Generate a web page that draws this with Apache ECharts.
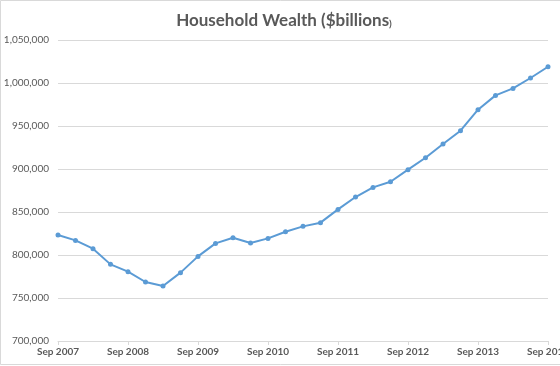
<!DOCTYPE html>
<html>
<head>
<meta charset="utf-8">
<script src="https://cdn.jsdelivr.net/npm/echarts@6/dist/echarts.min.js"></script>
<style>
html,body{margin:0;padding:0;background:#fff;}
#chart{width:560px;height:366px;}
</style>
</head>
<body>
<div id="chart"></div>
<script>
var categories = [
  'Sep 2007','Dec 2007','Mar 2008','Jun 2008',
  'Sep 2008','Dec 2008','Mar 2009','Jun 2009',
  'Sep 2009','Dec 2009','Mar 2010','Jun 2010',
  'Sep 2010','Dec 2010','Mar 2011','Jun 2011',
  'Sep 2011','Dec 2011','Mar 2012','Jun 2012',
  'Sep 2012','Dec 2012','Mar 2013','Jun 2013',
  'Sep 2013','Dec 2013','Mar 2014','Jun 2014',
  'Sep 2014'
];
var wealth = [
  823300, 817000, 807300, 789100,
  780600, 768600, 764000, 779500,
  798400, 813500, 820100, 814000,
  819300, 827100, 833300, 837600,
  853000, 867400, 878600, 885200,
  899200, 913100, 929000, 944500,
  969000, 985600, 993700, 1005800,
  1018900
];
var titleMain = 'Household Wealth ($billions';
var titleTail = ')';

var chart = echarts.init(document.getElementById('chart'), null, {renderer: 'canvas'});
var grey = '#595959';
var font = 'Lato';
chart.setOption({
  animation: false,
  backgroundColor: '#ffffff',
  title: {
    text: '{a|' + titleMain + '}{b|' + titleTail + '}',
    left: 279,
    textAlign: 'center',
    top: 7,
    textStyle: {
      rich: {
        a: {fontFamily: font, fontSize: 17, fontWeight: 'bold', color: grey},
        b: {fontFamily: font, fontSize: 10, fontWeight: 'bold', color: grey, verticalAlign: 'bottom', padding: [6, 0, 0, 0]}
      }
    }
  },
  graphic: [{
    type: 'rect',
    shape: {x: 0.5, y: 0.5, width: 620, height: 364},
    style: {fill: 'none', stroke: '#d9d9d9', lineWidth: 1},
    silent: true,
    z: -1
  }],
  grid: {left: 58, right: 12, top: 40, bottom: 25, containLabel: false, outerBoundsMode: 'none'},
  xAxis: {
    type: 'category',
    data: categories,
    boundaryGap: false,
    axisLine: {lineStyle: {color: '#d9d9d9', width: 1}},
    axisTick: {show: true, interval: 3, length: 4, lineStyle: {color: '#d9d9d9'}},
    axisLabel: {interval: 3, color: grey, fontFamily: font, fontSize: 10, fontWeight: 'bold', margin: 6, hideOverlap: false},
    splitLine: {show: false}
  },
  yAxis: {
    type: 'value',
    min: 700000,
    max: 1050000,
    interval: 50000,
    axisLine: {show: false},
    axisTick: {show: false},
    axisLabel: {
      color: grey, fontFamily: font, fontSize: 10, margin: 9,
      formatter: function (v) { return v.toLocaleString('en-US'); }
    },
    splitLine: {lineStyle: {color: '#d9d9d9', width: 1}}
  },
  series: [{
    type: 'line',
    data: wealth,
    symbol: 'circle',
    symbolSize: 5,
    lineStyle: {color: '#5b9bd5', width: 2},
    itemStyle: {color: '#5b9bd5'},
    clip: false
  }]
});
</script>
</body>
</html>
